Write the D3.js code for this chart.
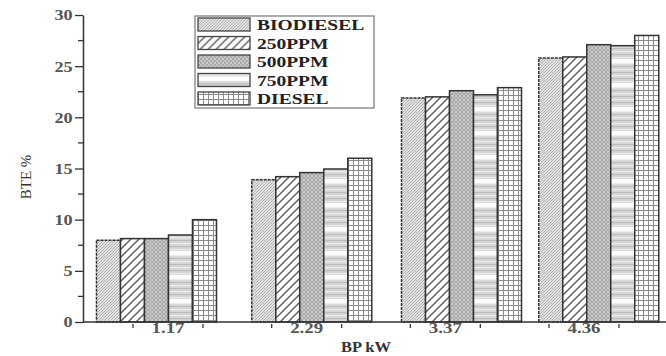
<!DOCTYPE html>
<html>
<head>
<meta charset="utf-8">
<script src="https://cdn.jsdelivr.net/npm/d3@7"></script>
<style>
  body { margin: 0; background: #fff; }
  svg { display: block; font-family: "Liberation Serif", "Times New Roman", serif; }
</style>
</head>
<body>
<div id="chart"></div>
<script>
// data
var bpLabels = ["1.17", "2.29", "3.37", "4.36"];
var bpValues = [1.17, 2.29, 3.37, 4.36];
var seriesNames = ["BIODIESEL", "250PPM", "500PPM", "750PPM", "DIESEL"];
var biodiesel = [8.0, 13.9, 21.9, 25.8];
var ppm250 = [8.15, 14.2, 22.0, 25.9];
var ppm500 = [8.15, 14.6, 22.6, 27.1];
var ppm750 = [8.5, 14.95, 22.2, 27.0];
var diesel = [10.0, 16.0, 22.9, 28.0];
var yTicks = [0, 5, 10, 15, 20, 25, 30];

var seriesValues = [biodiesel, ppm250, ppm500, ppm750, diesel];

var W = 666, H = 356;
var margin = {left: 83, right: 0, top: 15, bottom: 34};
var plotW = W - margin.left - margin.right,
    plotH = H - margin.top - margin.bottom;

var svg = d3.select("#chart").append("svg")
    .attr("width", W)
    .attr("height", H);

var defs = svg.append("defs");

// pattern 0 : fine diagonal hatch on light grey
var p0 = defs.append("pattern").attr("id", "pat0")
    .attr("patternUnits", "userSpaceOnUse").attr("width", 3).attr("height", 3);
p0.append("rect").attr("width", 3).attr("height", 3).attr("fill", "#e0e0e0");
p0.append("path").attr("d", "M0,3 L3,0 M-1,1 L1,-1 M2,4 L4,2")
    .attr("stroke", "#a8a8a8").attr("stroke-width", 0.8);

// pattern 1 : wide diagonal lines
var p1 = defs.append("pattern").attr("id", "pat1")
    .attr("patternUnits", "userSpaceOnUse").attr("width", 8).attr("height", 8);
p1.append("rect").attr("width", 8).attr("height", 8).attr("fill", "#fff");
p1.append("path").attr("d", "M0,8 L8,0 M-2,2 L2,-2 M6,10 L10,6")
    .attr("stroke", "#555").attr("stroke-width", 1.3);

// pattern 2 : dense dots on grey
var p2 = defs.append("pattern").attr("id", "pat2")
    .attr("patternUnits", "userSpaceOnUse").attr("width", 4).attr("height", 4);
p2.append("rect").attr("width", 4).attr("height", 4).attr("fill", "#a9a9a9");
p2.append("circle").attr("cx", 1).attr("cy", 1).attr("r", 0.9).attr("fill", "#dcdcdc");
p2.append("circle").attr("cx", 3).attr("cy", 3).attr("r", 0.9).attr("fill", "#cfcfcf");

// pattern 3 : horizontal stripes
var p3 = defs.append("pattern").attr("id", "pat3")
    .attr("patternUnits", "userSpaceOnUse").attr("width", 8).attr("height", 24);
p3.append("rect").attr("width", 8).attr("height", 24).attr("fill", "#d6d6d6");
[0, 3, 6, 9, 12, 15, 18].forEach(function (y, i) {
    p3.append("rect").attr("y", y).attr("width", 8).attr("height", 1.2)
        .attr("fill", i % 2 ? "#bdbdbd" : "#ececec");
});
p3.append("rect").attr("y", 20).attr("width", 8).attr("height", 4).attr("fill", "#fff");

// pattern 4 : grid
var p4 = defs.append("pattern").attr("id", "pat4")
    .attr("patternUnits", "userSpaceOnUse").attr("width", 5).attr("height", 5);
p4.append("rect").attr("width", 5).attr("height", 5).attr("fill", "#fff");
p4.append("path").attr("d", "M0,0.5 H5 M0.5,0 V5")
    .attr("stroke", "#8a8a8a").attr("stroke-width", 1);

var g = svg.append("g")
    .attr("transform", "translate(" + margin.left + "," + margin.top + ")");

var y = d3.scaleLinear().domain([0, 30]).range([plotH, 0]);
// bars sit on a linear BP axis, labels on evenly spaced points
var x = d3.scaleLinear().domain([0.64, 4.845]).range([0, plotW]);
var xLab = d3.scalePoint().domain(bpLabels).range([85, 501]);
var barW = 24;

// bars
var groups = g.selectAll(".grp")
    .data(bpValues)
    .enter().append("g")
    .attr("class", "grp");

groups.selectAll("rect")
    .data(function (d, gi) {
        return seriesValues.map(function (s, si) {
            return {bp: d, v: s[gi], si: si};
        });
    })
    .enter().append("rect")
    .attr("x", function (d) { return x(d.bp) + (d.si - 2.5) * barW; })
    .attr("y", function (d) { return y(d.v); })
    .attr("width", barW)
    .attr("height", function (d) { return plotH - y(d.v); })
    .attr("fill", function (d) { return "url(#pat" + d.si + ")"; })
    .attr("stroke", "#333")
    .attr("stroke-width", 1.5)
    .attr("stroke-dasharray", function (d) { return d.si === 0 ? "3,1" : null; });

// y axis
var yAxis = g.append("g")
    .attr("class", "axis")
    .call(d3.axisLeft(y).tickValues(yTicks).tickSize(8).tickSizeOuter(0).tickPadding(2));
yAxis.select(".domain").attr("stroke", "#333").attr("stroke-width", 1.5);
yAxis.selectAll(".tick line").attr("stroke", "#333").attr("stroke-width", 1.3);
yAxis.selectAll(".tick text")
    .attr("font-size", 14)
    .attr("font-weight", "bold")
    .attr("fill", "#555")
    .attr("font-family", "Liberation Serif")
    .attr("transform", "scale(1.3,1)")
    .attr("x", -8)
    .attr("dy", "0.35em");

// minor y ticks
g.append("g").selectAll("line")
    .data(yTicks.slice(0, -1).map(function (d) { return d + 2.5; }))
    .enter().append("line")
    .attr("x1", -5).attr("x2", 0)
    .attr("y1", function (d) { return y(d); })
    .attr("y2", function (d) { return y(d); })
    .attr("stroke", "#333").attr("stroke-width", 1.3);

// x axis
g.append("line")
    .attr("x1", 0).attr("x2", plotW)
    .attr("y1", plotH).attr("y2", plotH)
    .attr("stroke", "#333").attr("stroke-width", 1.5);

var xt = g.append("g").selectAll(".xt")
    .data(bpLabels)
    .enter().append("g")
    .attr("class", "xt")
    .attr("transform", function (d) { return "translate(" + xLab(d) + "," + plotH + ")"; });

xt.append("text")
    .attr("transform", "scale(1.35,1)")
    .attr("y", 11)
    .attr("text-anchor", "middle")
    .attr("font-size", 14)
    .attr("font-weight", "bold")
    .attr("fill", "#555")
    .text(function (d) { return d; });

xt.selectAll("line")
    .data([-35, 35])
    .enter().append("line")
    .attr("x1", function (d) { return d; })
    .attr("x2", function (d) { return d; })
    .attr("y1", 2).attr("y2", 6)
    .attr("stroke", "#333").attr("stroke-width", 1.3);

// axis titles
svg.append("text")
    .attr("transform", "translate(31,177) rotate(-90)")
    .attr("text-anchor", "middle")
    .attr("font-size", 15)
    .attr("fill", "#333")
    .text("BTE %");

svg.append("text")
    .attr("transform", "translate(366,352) scale(1.1,1)")
    .attr("text-anchor", "middle")
    .attr("font-size", 15)
    .attr("font-weight", "bold")
    .attr("fill", "#333")
    .text("BP kW");

// legend
var legend = svg.append("g").attr("transform", "translate(195,16)");
legend.append("rect")
    .attr("width", 179).attr("height", 92)
    .attr("fill", "#fff").attr("stroke", "#777").attr("stroke-width", 1.2);

var li = legend.selectAll(".li")
    .data(seriesNames)
    .enter().append("g")
    .attr("class", "li")
    .attr("transform", function (d, i) { return "translate(3," + (9 + i * 18.5) + ")"; });

li.append("rect")
    .attr("y", -7)
    .attr("width", 52).attr("height", 13)
    .attr("fill", function (d, i) { return "url(#pat" + i + ")"; })
    .attr("stroke", "#444").attr("stroke-width", 1.3);

li.append("text")
    .attr("transform", "translate(59,0) scale(1.3,1)")
    .attr("dy", "0.35em")
    .attr("font-size", 15)
    .attr("font-weight", "bold")
    .attr("fill", "#222")
    .text(function (d) { return d; });
</script>
</body>
</html>
